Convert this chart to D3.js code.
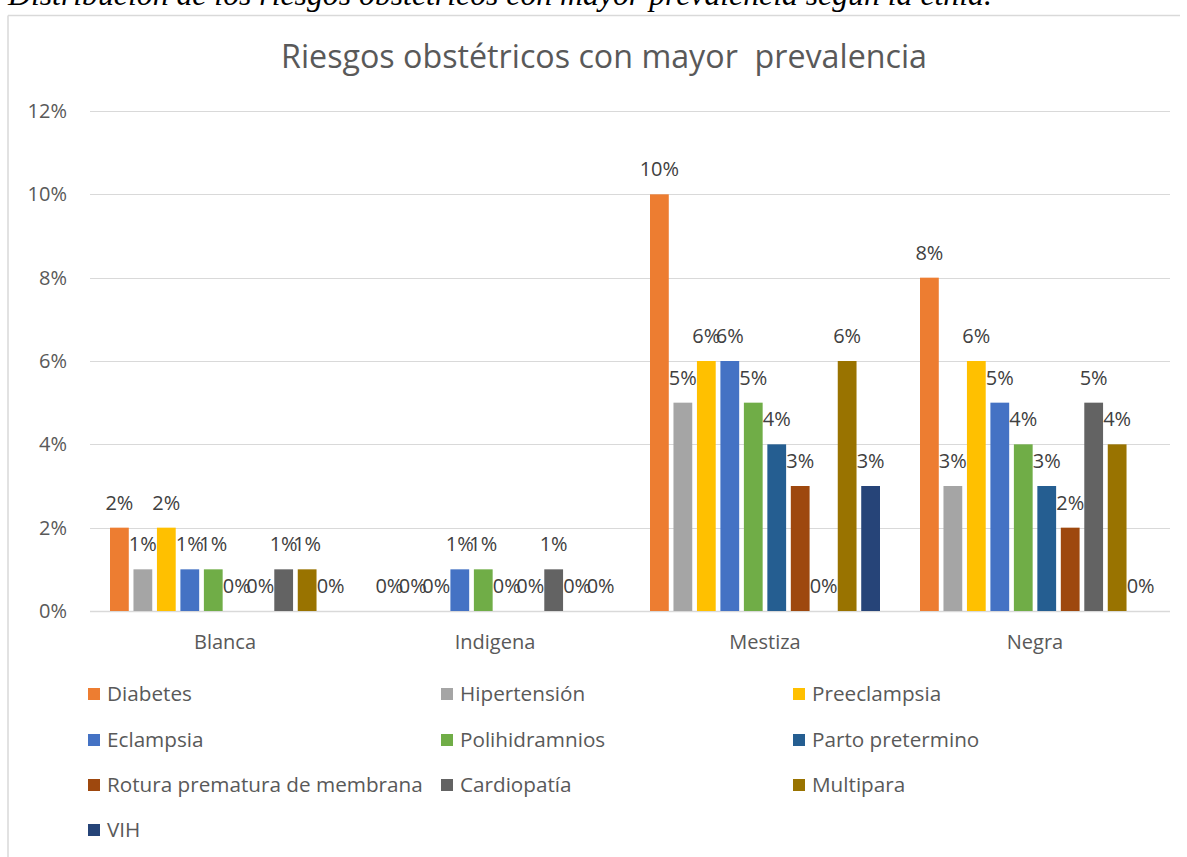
<!DOCTYPE html>
<html>
<head>
<meta charset="utf-8">
<script src="https://cdn.jsdelivr.net/npm/d3@7"></script>
<style>
  html, body { margin: 0; padding: 0; background: #ffffff; }
  svg { display: block; }
  text { font-family: "Open Sans", "Noto Sans", sans-serif; }
</style>
</head>
<body>
<svg id="chart" width="1187" height="857"></svg>
<script>
// ---- data ----
const captionText = "Distribución de los riesgos obstétricos con mayor prevalencia según la etnia.";
const titleText = "Riesgos obstétricos con mayor  prevalencia";
const categories = ["Blanca", "Indigena", "Mestiza", "Negra"];
const seriesNames = ["Diabetes", "Hipertensión", "Preeclampsia", "Eclampsia", "Polihidramnios",
  "Parto pretermino", "Rotura prematura de membrana", "Cardiopatía", "Multipara", "VIH"];
const seriesColors = ["#ED7D31", "#A5A5A5", "#FFC000", "#4472C4", "#70AD47",
  "#255E91", "#9E480E", "#636363", "#997300", "#264478"];
// values in percent, per category [Blanca, Indigena, Mestiza, Negra]
const diabetes       = [2, 0, 10, 8];
const hipertension   = [1, 0, 5, 3];
const preeclampsia   = [2, 0, 6, 6];
const eclampsia      = [1, 1, 6, 5];
const polihidramnios = [1, 1, 5, 4];
const partoPretermino = [0, 0, 4, 3];
const rotura         = [0, 0, 3, 2];
const cardiopatia    = [1, 1, 0, 5];
const multipara      = [1, 0, 6, 4];
const vih            = [0, 0, 3, 0];
const yTicks = [0, 2, 4, 6, 8, 10, 12];

const seriesValues = [diabetes, hipertension, preeclampsia, eclampsia, polihidramnios,
  partoPretermino, rotura, cardiopatia, multipara, vih];

// ---- layout ----
const svg = d3.select("#chart");
const W = 1187, H = 857;
const plotLeft = 90, plotRight = 1170, plotTop = 111, plotBottom = 611;
const textColor = "#595959";
const gridColor = "#d9d9d9";

svg.append("rect").attr("width", W).attr("height", H).attr("fill", "#ffffff");

// caption (partially cut at top)
const cap = svg.append("text")
  .attr("x", 8).attr("y", 5)
  .style("font-family", "'Liberation Serif', 'Times New Roman', serif")
  .style("font-style", "italic")
  .attr("font-size", 28)
  .attr("fill", "#000000")
  .text(captionText);
{
  const len = cap.node().getComputedTextLength();
  cap.attr("font-size", 28 * 984 / len);
}

// chart frame
svg.append("line").attr("x1", 8).attr("x2", 1180).attr("y1", 15.5).attr("y2", 15.5)
  .attr("stroke", gridColor).attr("stroke-width", 1.5);
svg.append("line").attr("x1", 8).attr("x2", 8).attr("y1", 15.5).attr("y2", H)
  .attr("stroke", gridColor).attr("stroke-width", 1.5);

// title
const title = svg.append("text")
  .attr("x", 604).attr("y", 68)
  .attr("text-anchor", "middle")
  .attr("font-size", 30)
  .attr("fill", textColor)
  .style("white-space", "pre")
  .attr("xml:space", "preserve")
  .text(titleText);
{
  const len = title.node().getComputedTextLength();
  title.attr("font-size", 30 * 646 / len);
}

// scales
const y = d3.scaleLinear().domain([0, 12]).range([plotBottom, plotTop]);
const x0 = d3.scaleBand().domain(categories).range([plotLeft, plotRight]).padding(0);
const x1 = d3.scaleBand().domain(seriesNames).range([20, x0.bandwidth() - 20])
  .paddingInner(0.2).paddingOuter(0);

// gridlines
svg.append("g").selectAll("line").data(yTicks).join("line")
  .attr("x1", plotLeft).attr("x2", plotRight)
  .attr("y1", d => Math.round(y(d)) + 0.5).attr("y2", d => Math.round(y(d)) + 0.5)
  .attr("stroke", gridColor).attr("stroke-width", d => d === 0 ? 1.5 : 1);

// y axis labels
const yAxis = d3.axisLeft(y).tickValues(yTicks).tickFormat(d => d + "%").tickSize(0).tickPadding(0);
const yG = svg.append("g").attr("transform", `translate(67,0)`).call(yAxis);
yG.select(".domain").remove();
yG.selectAll("text").attr("font-size", 20).attr("fill", textColor)
  .attr("font-family", "'Open Sans', sans-serif");

// x axis labels
const xAxis = d3.axisBottom(x0).tickSize(0).tickPadding(0);
const xG = svg.append("g").attr("transform", `translate(0,${plotBottom})`).call(xAxis);
xG.select(".domain").remove();
xG.selectAll("text").attr("font-size", 20).attr("fill", textColor)
  .attr("font-family", "'Open Sans', sans-serif")
  .attr("dy", null).attr("y", 38);

// bars
const rows = [];
categories.forEach((c, ci) => {
  seriesNames.forEach((s, si) => {
    rows.push({ cat: c, series: s, color: seriesColors[si], value: seriesValues[si][ci] });
  });
});

const groups = svg.append("g").selectAll("g").data(categories).join("g")
  .attr("transform", d => `translate(${x0(d)},0)`);

groups.selectAll("rect")
  .data(c => rows.filter(r => r.cat === c))
  .join("rect")
  .attr("x", d => x1(d.series))
  .attr("width", x1.bandwidth())
  .attr("y", d => y(d.value))
  .attr("height", d => y(0) - y(d.value))
  .attr("fill", d => d.color);

groups.selectAll("text.lbl")
  .data(c => rows.filter(r => r.cat === c))
  .join("text")
  .attr("class", "lbl")
  .attr("x", d => x1(d.series) + x1.bandwidth() / 2)
  .attr("y", d => y(d.value) - 18)
  .attr("text-anchor", "middle")
  .attr("font-size", 20)
  .attr("fill", "#404040")
  .text(d => d.value + "%");

// legend
const legCols = [88, 441, 793];
const legRows = [694, 740, 785, 830];
const leg = svg.append("g").selectAll("g").data(seriesNames).join("g")
  .attr("transform", (d, i) => `translate(${legCols[i % 3]},${legRows[Math.floor(i / 3)]})`);
leg.append("rect").attr("x", 0).attr("y", -6).attr("width", 12).attr("height", 12)
  .attr("fill", (d, i) => seriesColors[i]);
leg.append("text").attr("x", 19).attr("y", 0).attr("dy", "0.35em")
  .attr("font-size", 20.7).attr("fill", textColor).text(d => d);
</script>
</body>
</html>
